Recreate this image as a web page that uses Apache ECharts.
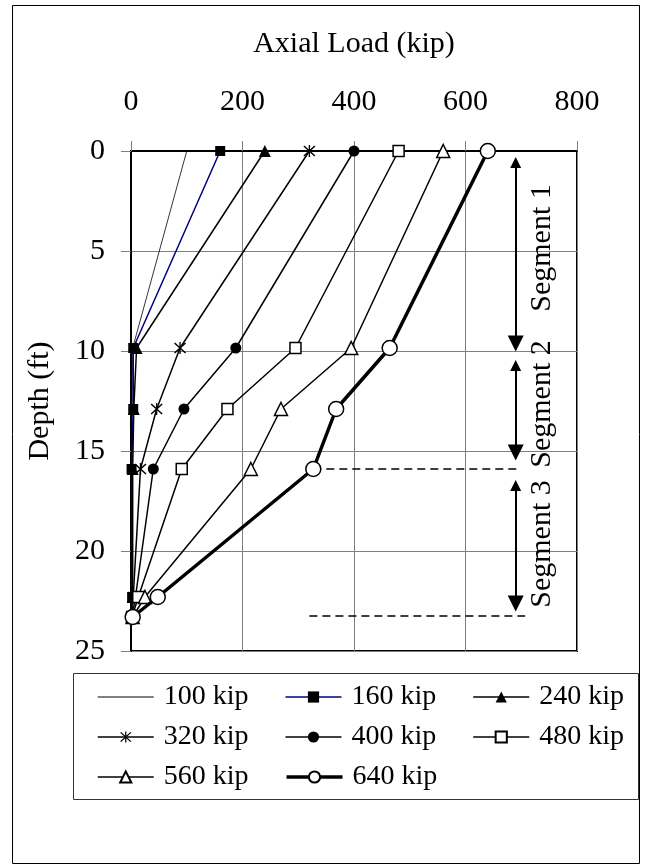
<!DOCTYPE html>
<html><head><meta charset="utf-8">
<script src="https://cdn.jsdelivr.net/npm/echarts@6/dist/echarts.min.js"></script>
<style>html,body{margin:0;padding:0;background:#fff}#c{width:646px;height:865px}</style>
</head><body><div id="c"></div><script>
// ---- data ----
const depths = [0, 9.85, 12.9, 15.9, 22.3, 23.3];
const seriesNames = ['100 kip','160 kip','240 kip','320 kip','400 kip','480 kip','560 kip','640 kip'];
const load100 = [100, 3, 2, 1, 0, 0];
const load160 = [160, 4, 4, 1, 2, 0];
const load240 = [240, 10, 5, 3, 3, 1];
const load320 = [320, 88, 46, 17, 4, 1];
const load400 = [400, 188, 95, 40, 8, 2];
const load480 = [480, 295, 173, 91, 13, 2];
const load560 = [560, 395, 269, 215, 25, 3];
const load640 = [640, 464, 368, 327, 48, 3];
const xTicks = [0, 200, 400, 600, 800];
const yTicks = [0, 5, 10, 15, 20, 25];
const segLabels = ['Segment 1', 'Segment 2', 'Segment 3'];
const segArrowX = 690;
const segArrowFrom = [0.2, 10.35, 16.35];
const segArrowTo = [10.0, 15.45, 23.0];
const segLabelX = 737;
const segLabelDepth = [4.85, 12.65, 19.65];
const dashDepth = [15.9, 23.25];
const dashFrom = [327, 320];
const dashTo = [695, 707];

// ---- chart ----
const FONT = '"Liberation Serif", "Times New Roman", serif';
const STAR = 'path://M9,0 L11,0 L11,20 L9,20 Z M1,2.5 L2.5,1 L19,17.5 L17.5,19 Z M17.5,1 L19,2.5 L2.5,19 L1,17.5 Z';
const LINE_ONLY = 'path://M0,0 M0,14 M0,6.5 L56,6.5 L56,7.5 L0,7.5 Z';
const loads = [load100, load160, load240, load320, load400, load480, load560, load640];
const styles = [
  {symbol:'none', size:0, color:'#000', width:0.8, fill:'#000'},
  {symbol:'rect', size:10, color:'#000080', width:1.5, fill:'#000'},
  {symbol:'triangle', size:12, color:'#000', width:1.5, fill:'#000'},
  {symbol:STAR, size:12, color:'#000', width:1.5, fill:'#000'},
  {symbol:'circle', size:11, color:'#000', width:1.5, fill:'#000'},
  {symbol:'rect', size:11, color:'#000', width:1.5, fill:'#fff'},
  {symbol:'triangle', size:13, color:'#000', width:1.5, fill:'#fff'},
  {symbol:'circle', size:15, color:'#000', width:3.5, fill:'#fff'}
];
const dataSeries = seriesNames.map((n, i) => ({
  name: n, type: 'line', z: 3 + i,
  data: depths.map((d, k) => [loads[i][k], d]),
  symbol: styles[i].symbol, symbolSize: styles[i].size, showSymbol: styles[i].symbol !== 'none',
  lineStyle: {color: styles[i].color, width: styles[i].width},
  itemStyle: {color: styles[i].fill, borderColor: '#000', borderWidth: styles[i].fill === '#fff' ? 1.5 : 0},
  emphasis: {disabled: true}
}));
const headShift = 0.38;
const arrowSeries = {
  type: 'lines', coordinateSystem: 'cartesian2d', z: 2, silent: true,
  symbol: ['triangle', 'triangle'], symbolSize: [11, 16],
  lineStyle: {color: '#000', width: 2, opacity: 1},
  data: segArrowFrom.map((f, i) => ({coords: [[segArrowX, f + headShift], [segArrowX, segArrowTo[i] - headShift]]}))
};
const dashSeries = {
  type: 'lines', coordinateSystem: 'cartesian2d', z: 2, silent: true,
  symbol: ['none', 'none'],
  lineStyle: {color: '#000', width: 1.5, type: [8, 5], opacity: 1},
  data: dashDepth.map((d, i) => ({coords: [[dashFrom[i], d], [dashTo[i], d]]}))
};
const labelSeries = {
  type: 'scatter', symbolSize: 1, silent: true, z: 2,
  itemStyle: {color: 'rgba(255,255,255,0)', opacity: 1},
  data: segLabels.map((s, i) => ({name: s, value: [segLabelX, segLabelDepth[i]]})),
  label: {show: true, position: 'inside', rotate: 90, formatter: '{b}', fontFamily: FONT, fontSize: 30,
          color: '#000', opacity: 1, textBorderWidth: 0},
  labelLayout: {hideOverlap: false}
};

const legendData = seriesNames.map((n, i) => {
  const item = {name: n, lineStyle: {width: styles[i].width, color: styles[i].color}};
  if (styles[i].symbol === 'none') {
    item.icon = LINE_ONLY;
    item.itemStyle = {color: '#000', borderWidth: 0};
  }
  return item;
});

const chart = echarts.init(document.getElementById('c'), null, {renderer: 'canvas'});
chart.setOption({
  animation: false,
  backgroundColor: '#fff',
  grid: {left: 131, top: 151, width: 446, height: 500, show: true, borderColor: '#000', borderWidth: 2, containLabel: false},
  xAxis: {
    type: 'value', position: 'top', min: xTicks[0], max: xTicks[xTicks.length - 1], interval: xTicks[1] - xTicks[0],
    name: 'Axial Load (kip)', nameLocation: 'middle', nameGap: 92,
    nameTextStyle: {fontFamily: FONT, fontSize: 30, color: '#000'},
    axisLine: {show: true, lineStyle: {color: '#000', width: 2}},
    axisTick: {show: true, length: 10, lineStyle: {color: '#808080', width: 1}},
    axisLabel: {fontFamily: FONT, fontSize: 30, color: '#000', margin: 34},
    splitLine: {show: true, lineStyle: {color: '#808080', width: 1}}
  },
  yAxis: {
    type: 'value', inverse: true, min: yTicks[0], max: yTicks[yTicks.length - 1], interval: yTicks[1] - yTicks[0],
    name: 'Depth (ft)', nameLocation: 'middle', nameGap: 76,
    nameTextStyle: {fontFamily: FONT, fontSize: 30, color: '#000'},
    axisLine: {show: true, lineStyle: {color: '#000', width: 2}},
    axisTick: {show: true, length: 10, lineStyle: {color: '#808080', width: 1}},
    axisLabel: {fontFamily: FONT, fontSize: 30, color: '#000', margin: 26},
    splitLine: {show: true, lineStyle: {color: '#808080', width: 1}}
  },
  legend: {
    data: legendData, orient: 'horizontal', left: 97, top: 682, width: 620, padding: 0,
    itemWidth: 56, itemHeight: 14, itemGap: 10,
    textStyle: {fontFamily: FONT, fontSize: 28, color: '#000', width: 111, lineHeight: 30, padding: [0, 0, 0, 5]},
    selectedMode: false
  },
  graphic: [
    {type: 'rect', shape: {x: 12.5, y: 5.5, width: 627, height: 858}, style: {fill: 'none', stroke: '#000', lineWidth: 1}, silent: true, z: -1},
    {type: 'rect', shape: {x: 73.5, y: 673.5, width: 565, height: 126}, style: {fill: 'none', stroke: '#333', lineWidth: 1}, silent: true, z: -1}
  ],
  series: [arrowSeries, dashSeries, labelSeries].concat(dataSeries)
});
</script></body></html>
